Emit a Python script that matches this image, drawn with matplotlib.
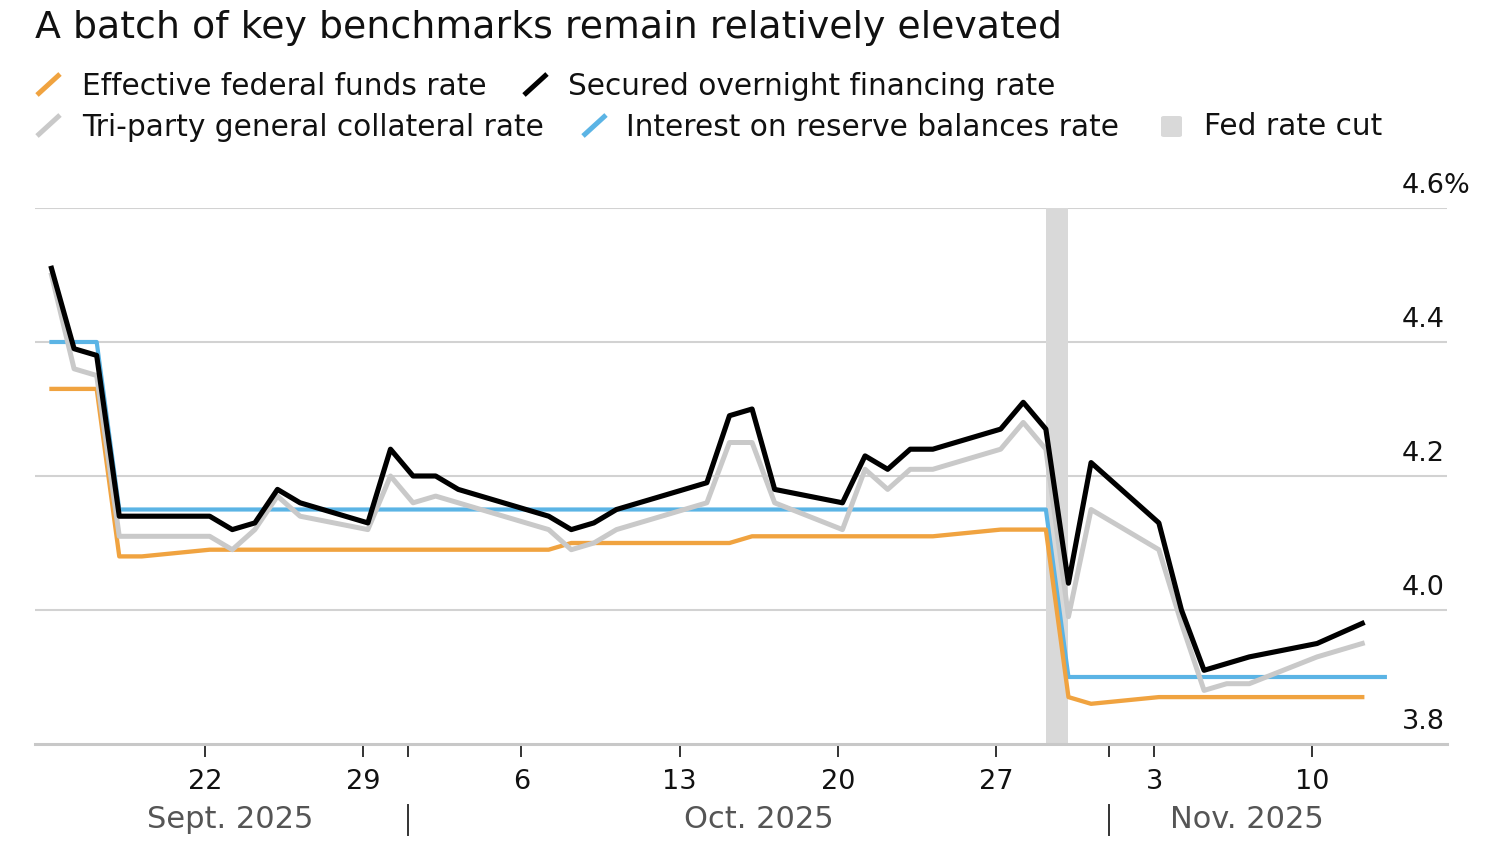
import numpy as np
import pandas as pd
import matplotlib
matplotlib.use("Agg")
import matplotlib.pyplot as plt
import matplotlib.transforms as mtransforms
from matplotlib.lines import Line2D
from matplotlib.patches import FancyBboxPatch

plt.rcParams["font.family"] = ["DejaVu Sans"]

# --------------------------------------------
# Data, business days
# --------------------------------------------

dates = pd.to_datetime([
    "2025-09-15", "2025-09-16", "2025-09-17", "2025-09-18", "2025-09-19",
    "2025-09-22", "2025-09-23", "2025-09-24", "2025-09-25", "2025-09-26",
    "2025-09-29", "2025-09-30", "2025-10-01", "2025-10-02", "2025-10-03",
    "2025-10-06", "2025-10-07", "2025-10-08", "2025-10-09", "2025-10-10",
    "2025-10-14", "2025-10-15", "2025-10-16", "2025-10-17",
    "2025-10-20", "2025-10-21", "2025-10-22", "2025-10-23", "2025-10-24",
    "2025-10-27", "2025-10-28", "2025-10-29", "2025-10-30", "2025-10-31",
    "2025-11-03", "2025-11-04", "2025-11-05", "2025-11-06", "2025-11-07",
    "2025-11-10", "2025-11-12", "2025-11-13",
])

effr = [4.33, 4.33, 4.33, 4.08, 4.08,
        4.09, 4.09, 4.09, 4.09, 4.09,
        4.09, 4.09, 4.09, 4.09, 4.09,
        4.09, 4.09, 4.10, 4.10, 4.10,
        4.10, 4.10, 4.11, 4.11,
        4.11, 4.11, 4.11, 4.11, 4.11,
        4.12, 4.12, 4.12, 3.87, 3.86,
        3.87, 3.87, 3.87, 3.87, 3.87,
        3.87, 3.87, np.nan]

sofr = [4.51, 4.39, 4.38, 4.14, 4.14,
        4.14, 4.12, 4.13, 4.18, 4.16,
        4.13, 4.24, 4.20, 4.20, 4.18,
        4.15, 4.14, 4.12, 4.13, 4.15,
        4.19, 4.29, 4.30, 4.18,
        4.16, 4.23, 4.21, 4.24, 4.24,
        4.27, 4.31, 4.27, 4.04, 4.22,
        4.13, 4.00, 3.91, 3.92, 3.93,
        3.95, 3.98, np.nan]

tgcr = [4.50, 4.36, 4.35, 4.11, 4.11,
        4.11, 4.09, 4.12, 4.17, 4.14,
        4.12, 4.20, 4.16, 4.17, 4.16,
        4.13, 4.12, 4.09, 4.10, 4.12,
        4.16, 4.25, 4.25, 4.16,
        4.12, 4.21, 4.18, 4.21, 4.21,
        4.24, 4.28, 4.24, 3.99, 4.15,
        4.09, 3.98, 3.88, 3.89, 3.89,
        3.93, 3.95, np.nan]

iorb = [4.40, 4.40, 4.40, 4.15, 4.15,
        4.15, 4.15, 4.15, 4.15, 4.15,
        4.15, 4.15, 4.15, 4.15, 4.15,
        4.15, 4.15, 4.15, 4.15, 4.15,
        4.15, 4.15, 4.15, 4.15,
        4.15, 4.15, 4.15, 4.15, 4.15,
        4.15, 4.15, 4.15, 3.90, 3.90,
        3.90, 3.90, 3.90, 3.90, 3.90,
        3.90, 3.90, 3.90]

cut_start = pd.Timestamp("2025-10-29")
cut_end = pd.Timestamp("2025-10-30")

y_ticks = [3.8, 4.0, 4.2, 4.4, 4.6]
y_labels = ["3.8", "4.0", "4.2", "4.4", "4.6%"]

x_ticks = pd.to_datetime(["2025-09-22", "2025-09-29", "2025-10-06", "2025-10-13",
                          "2025-10-20", "2025-10-27", "2025-11-03", "2025-11-10"])
x_labels = ["22", "29", "6", "13", "20", "27", "3", "10"]

month_bounds = pd.to_datetime(["2025-10-01", "2025-11-01"])
month_labels = ["Sept. 2025", "Oct. 2025", "Nov. 2025"]

legend_labels = ["Effective federal funds rate", "Secured overnight financing rate",
                 "Tri-party general collateral rate", "Interest on reserve balances rate",
                 "Fed rate cut"]

# --------------------------------------------
# Styles
# --------------------------------------------

C_EFFR = "#F0A340"
C_SOFR = "#000000"
C_TGCR = "#C9C9C9"
C_IORB = "#5BB4E5"
C_CUT = "#D9D9D9"
C_GRID = "#D2D2D2"
C_TEXT = "#111111"

W, H = 1500, 850
shift = pd.Timedelta(hours=5)   # points sit a bit right of the day ticks

fig = plt.figure(figsize=(W / 100, H / 100), dpi=100)
ax = fig.add_axes([35 / W, 106 / H, 1412 / W, 536 / H])

x = dates + shift

ax.axvspan(cut_start + shift, cut_end + shift, color=C_CUT, lw=0, zorder=1)

for v in y_ticks[1:]:
    ax.axhline(v, color=C_GRID, lw=1.5, zorder=0)

ax.plot(x, iorb, color=C_IORB, lw=3.0, zorder=3)
ax.plot(x, effr, color=C_EFFR, lw=3.1, zorder=4)
ax.plot(x, tgcr, color=C_TGCR, lw=3.6, zorder=5)
ax.plot(x, sofr, color=C_SOFR, lw=3.7, zorder=6)

ax.set_ylim(3.8, 4.6)
ax.set_xlim(pd.Timestamp("2025-09-14 11:30"), pd.Timestamp("2025-11-15 23:00"))

for s in ["top", "right", "left"]:
    ax.spines[s].set_visible(False)
ax.spines["bottom"].set_color("#C8C8C8")
ax.spines["bottom"].set_linewidth(2.2)
ax.spines["bottom"].set_zorder(2)

ax.set_yticks([])
ax.set_xticks(x_ticks)
ax.set_xticklabels(x_labels, fontsize=19.5, color=C_TEXT)
ax.set_xticks(month_bounds, minor=True)
ax.tick_params(axis="x", which="both", length=9.5, width=1.4, color="#333333",
               direction="out", pad=8.5)

# y labels sit above the gridlines on the right
for v, lab in zip(y_ticks, y_labels):
    ax.annotate(lab, xy=(0.968, v), xycoords=("axes fraction", "data"),
                xytext=(0, 11), textcoords="offset points",
                ha="left", va="baseline", fontsize=19.5, color=C_TEXT)

# month labels and separators
trans = mtransforms.blended_transform_factory(ax.transData, ax.transAxes)
edges = [x[0]] + list(month_bounds) + [x[-1]]
for i, lab in enumerate(month_labels):
    mid = edges[i] + (edges[i + 1] - edges[i]) / 2
    ax.text(mid, -0.157, lab, transform=trans, ha="center", va="baseline",
            fontsize=22, color="#555555")
for b in month_bounds:
    ax.plot([b, b], [-0.114, -0.170], transform=trans, color="#333333",
            lw=1.4, clip_on=False)

# title
fig.text(35 / W, 1 - 38 / H, "A batch of key benchmarks remain relatively elevated",
         ha="left", va="baseline", fontsize=27.3, color=C_TEXT)

# legend, drawn by hand
def slash(x0, y_base, color):
    fig.add_artist(Line2D([x0 / W, (x0 + 23) / W], [1 - y_base / H, 1 - (y_base - 21) / H],
                          transform=fig.transFigure, color=color, lw=3.6,
                          solid_capstyle="butt"))

rows = [
    (37, 95, C_EFFR, 82, legend_labels[0]),
    (524, 95, C_SOFR, 568, legend_labels[1]),
    (37, 136, C_TGCR, 82, legend_labels[2]),
    (583, 136, C_IORB, 626, legend_labels[3]),
]
for mx, yb, col, tx, lab in rows:
    slash(mx, yb, col)
    fig.text(tx / W, 1 - yb / H, lab, ha="left", va="baseline", fontsize=21.3,
             color=C_TEXT)

fig.add_artist(FancyBboxPatch((1161 / W, 1 - 137 / H), 21 / W, 21 / H,
                              boxstyle="round,pad=0,rounding_size=0.002",
                              transform=fig.transFigure, color=C_CUT, lw=0))
fig.text(1204 / W, 1 - 135 / H, legend_labels[4], ha="left", va="baseline",
         fontsize=21.3, color=C_TEXT)

fig.savefig("out.png", dpi=100)
